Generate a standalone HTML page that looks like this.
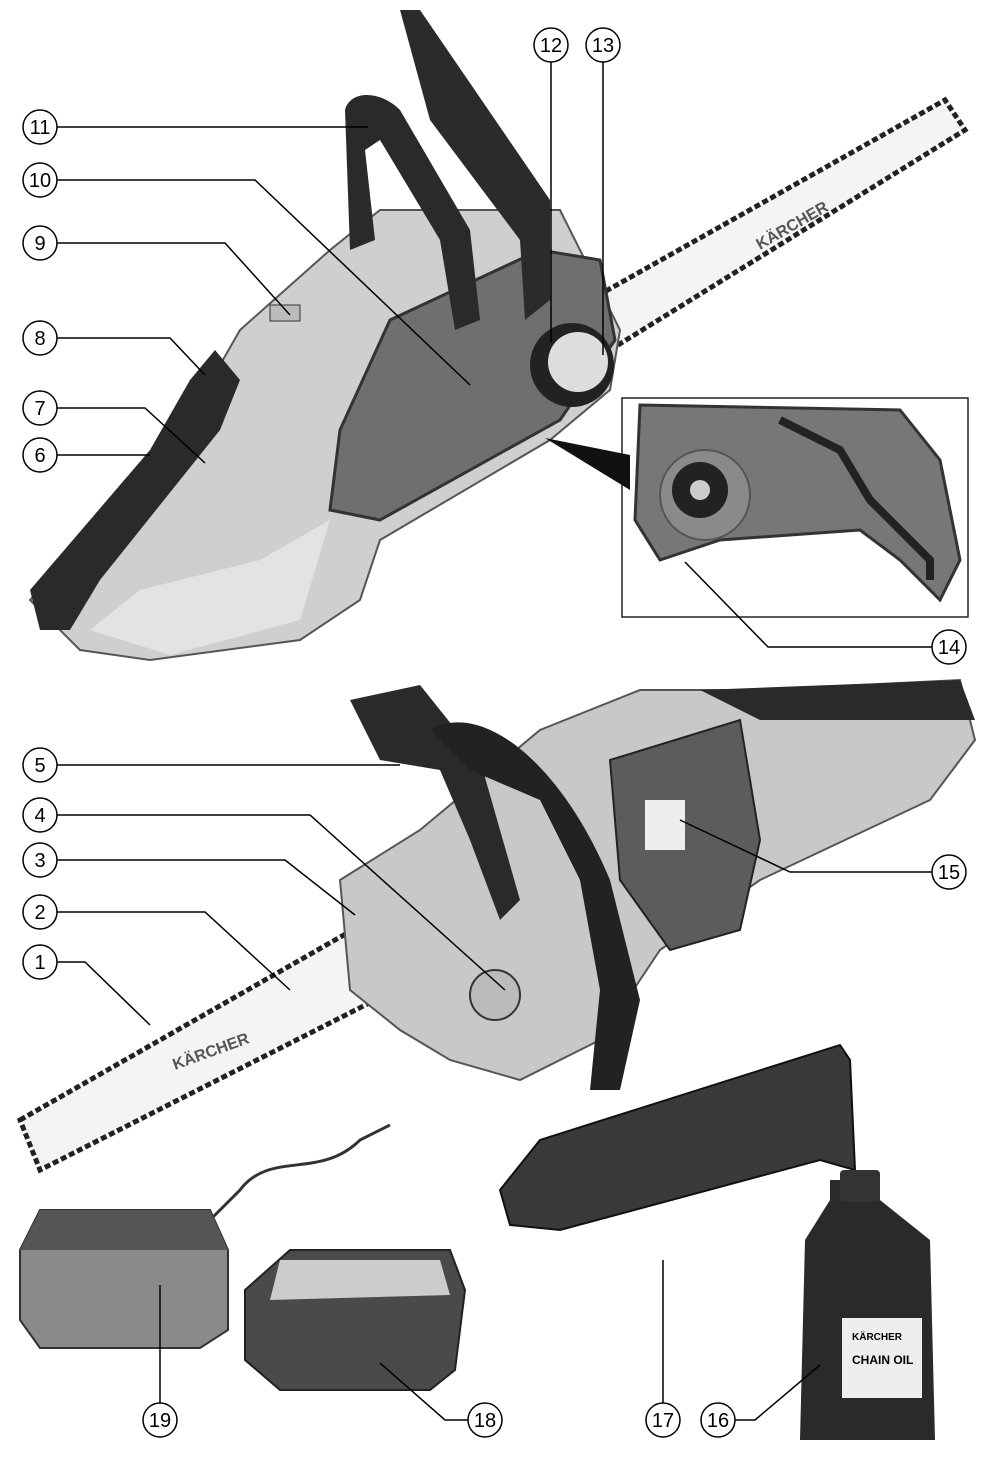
<!DOCTYPE html>
<html><head><meta charset="utf-8"><style>
html,body{margin:0;padding:0;background:#fff;}
svg{display:block;}
text{font-family:"Liberation Sans",sans-serif;}
</style></head><body>
<svg width="993" height="1465" viewBox="0 0 993 1465" xmlns="http://www.w3.org/2000/svg">
<!-- TOP SAW -->
<!-- bar -->
<polygon points="590,300 945,100 965,130 610,350" fill="#f4f4f4" stroke="#222" stroke-width="5" stroke-dasharray="6,3"/>
<text x="760" y="250" font-size="16" font-weight="bold" fill="#555" transform="rotate(-30 760 250)">KÄRCHER</text>
<!-- body light -->
<path d="M30,600 L150,470 L200,400 L240,330 L330,250 L380,210 L560,210 L620,330 L610,390 L550,440 L380,540 L360,600 L300,640 L150,660 L80,650 Z" fill="#cfcfcf" stroke="#555" stroke-width="2"/>
<path d="M90,630 L140,590 L260,560 L330,520 L300,620 L170,655 Z" fill="#e3e3e3"/>
<!-- dark cover -->
<path d="M340,430 L390,320 L540,250 L600,260 L615,340 L560,420 L380,520 L330,510 Z" fill="#6f6f6f" stroke="#333" stroke-width="3"/>
<!-- handle front guard -->
<path d="M400,10 L420,10 L550,200 L550,300 L525,320 L520,240 L430,120 Z" fill="#2b2b2b"/>
<!-- top handle -->
<path d="M345,110 C350,90 380,90 400,110 L470,230 L480,320 L455,330 L440,240 L380,140 L365,150 L375,240 L350,250 Z" fill="#2a2a2a"/>
<!-- rear handle -->
<path d="M30,590 L150,450 L190,380 L215,350 L240,380 L220,430 L100,580 L70,630 L40,630 Z" fill="#2a2a2a"/>
<rect x="270" y="305" width="30" height="16" fill="#bbb" stroke="#333"/>
<!-- knob -->
<circle cx="572" cy="365" r="42" fill="#222"/>
<circle cx="578" cy="362" r="30" fill="#ddd"/>
<!-- inset -->
<rect x="622" y="398" width="346" height="219" fill="#fff" stroke="#222" stroke-width="1.5"/>
<polygon points="545,438 630,455 630,490" fill="#111"/>
<path d="M640,405 L900,410 L940,460 L960,560 L940,600 L900,560 L860,530 L720,540 L660,560 L635,520 Z" fill="#777" stroke="#333" stroke-width="3"/>
<path d="M780,420 L840,450 L870,500 L930,560 L930,580" fill="none" stroke="#222" stroke-width="8"/>
<circle cx="705" cy="495" r="45" fill="#8a8a8a" stroke="#555" stroke-width="2"/>
<circle cx="700" cy="490" r="28" fill="#222"/>
<circle cx="700" cy="490" r="10" fill="#ccc"/>

<!-- BOTTOM SAW -->
<polygon points="20,1120 370,920 395,990 40,1170" fill="#f4f4f4" stroke="#222" stroke-width="5" stroke-dasharray="6,3"/>
<text x="175" y="1070" font-size="16" font-weight="bold" fill="#555" transform="rotate(-20 175 1070)">KÄRCHER</text>
<path d="M340,880 L420,830 L540,730 L640,690 L760,690 L960,680 L975,740 L930,800 L760,880 L660,950 L600,1040 L520,1080 L450,1060 L400,1030 L350,990 Z" fill="#c8c8c8" stroke="#555" stroke-width="2"/>
<path d="M700,690 L960,680 L975,720 L940,720 L760,720 Z" fill="#2a2a2a"/>
<path d="M610,760 L740,720 L760,840 L740,930 L670,950 L620,880 Z" fill="#5c5c5c" stroke="#222" stroke-width="2"/>
<rect x="645" y="800" width="40" height="50" fill="#eee"/>
<path d="M350,700 L420,685 L480,760 L520,900 L500,920 L470,840 L440,770 L380,760 Z" fill="#2a2a2a"/>
<path d="M430,730 C480,700 560,760 610,880 L640,1000 L620,1090 L590,1090 L600,990 L580,880 L540,800 L470,770 Z" fill="#222"/>
<circle cx="495" cy="995" r="25" fill="#bbb" stroke="#333" stroke-width="2"/>

<!-- cord + plug -->
<path d="M200,1230 L240,1190 C270,1150 320,1180 360,1140 L390,1125" fill="none" stroke="#333" stroke-width="3"/>
<!-- charger -->
<path d="M20,1250 L40,1210 L210,1210 L228,1250 L228,1330 L200,1348 L40,1348 L20,1320 Z" fill="#8a8a8a" stroke="#333" stroke-width="2"/>
<path d="M40,1210 L210,1210 L228,1250 L20,1250 Z" fill="#555"/>
<!-- battery -->
<path d="M245,1290 L290,1250 L450,1250 L465,1290 L455,1370 L430,1390 L280,1390 L245,1360 Z" fill="#4a4a4a" stroke="#222" stroke-width="2"/>
<path d="M280,1260 L440,1260 L450,1295 L270,1300 Z" fill="#ccc"/>
<!-- bar cover -->
<path d="M500,1190 L540,1140 L840,1045 L850,1060 L855,1170 L820,1160 L560,1230 L510,1225 Z" fill="#3a3a3a" stroke="#111" stroke-width="2"/>
<!-- oil bottle -->
<path d="M805,1240 L830,1200 L830,1180 L880,1180 L880,1200 L930,1240 L935,1440 L800,1440 Z" fill="#2a2a2a"/>
<rect x="840" y="1170" width="40" height="32" rx="4" fill="#333"/>
<rect x="842" y="1318" width="80" height="80" fill="#eee"/>
<text x="852" y="1340" font-size="10" font-weight="bold">KÄRCHER</text>
<text x="852" y="1364" font-size="12" font-weight="bold">CHAIN OIL</text>

<!-- LEADERS -->
<g fill="none" stroke="#000" stroke-width="1.5">
<polyline points="57,127 368,127"/>
<polyline points="57,180 255,180 470,385"/>
<polyline points="57,243 225,243 290,315"/>
<polyline points="57,338 170,338 205,375"/>
<polyline points="57,408 145,408 205,463"/>
<polyline points="57,455 150,455"/>
<polyline points="551,62 551,342"/>
<polyline points="603,62 603,355"/>
<polyline points="932,647 768,647 685,562"/>
<polyline points="57,765 400,765"/>
<polyline points="57,815 310,815 505,990"/>
<polyline points="57,860 285,860 355,915"/>
<polyline points="57,912 205,912 290,990"/>
<polyline points="57,962 85,962 150,1025"/>
<polyline points="932,872 790,872 680,820"/>
<polyline points="160,1403 160,1285"/>
<polyline points="468,1420 445,1420 380,1363"/>
<polyline points="663,1403 663,1260"/>
<polyline points="735,1420 755,1420 820,1365"/>
</g>
<g fill="#fff" stroke="#000" stroke-width="1.5">
<circle cx="40" cy="127" r="17"/><circle cx="40" cy="180" r="17"/><circle cx="40" cy="243" r="17"/>
<circle cx="40" cy="338" r="17"/><circle cx="40" cy="408" r="17"/><circle cx="40" cy="455" r="17"/>
<circle cx="551" cy="45" r="17"/><circle cx="603" cy="45" r="17"/><circle cx="949" cy="647" r="17"/>
<circle cx="40" cy="765" r="17"/><circle cx="40" cy="815" r="17"/><circle cx="40" cy="860" r="17"/>
<circle cx="40" cy="912" r="17"/><circle cx="40" cy="962" r="17"/><circle cx="949" cy="872" r="17"/>
<circle cx="160" cy="1420" r="17"/><circle cx="485" cy="1420" r="17"/><circle cx="663" cy="1420" r="17"/><circle cx="718" cy="1420" r="17"/>
</g>
<g font-size="20" text-anchor="middle" fill="#000">
<text x="40" y="134">11</text><text x="40" y="187">10</text><text x="40" y="250">9</text>
<text x="40" y="345">8</text><text x="40" y="415">7</text><text x="40" y="462">6</text>
<text x="551" y="52">12</text><text x="603" y="52">13</text><text x="949" y="654">14</text>
<text x="40" y="772">5</text><text x="40" y="822">4</text><text x="40" y="867">3</text>
<text x="40" y="919">2</text><text x="40" y="969">1</text><text x="949" y="879">15</text>
<text x="160" y="1427">19</text><text x="485" y="1427">18</text><text x="663" y="1427">17</text><text x="718" y="1427">16</text>
</g>
</svg>
</body></html>
